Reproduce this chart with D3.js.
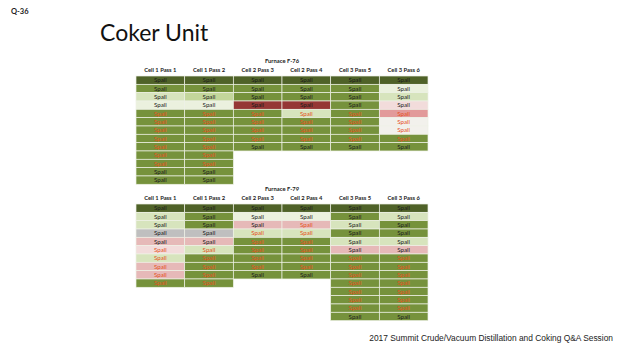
<!DOCTYPE html>
<html>
<head>
<meta charset="utf-8">
<script src="https://cdn.jsdelivr.net/npm/d3@7"></script>
<style>
  html, body { margin: 0; padding: 0; background: #fff; }
  svg { display: block; }
</style>
</head>
<body>
<svg id="chart" width="624" height="351"></svg>
<script>
// table data: one status code per cell, and 1 = red label text
const columns = ["Cell 1 Pass 1", "Cell 1 Pass 2", "Cell 2 Pass 3", "Cell 2 Pass 4", "Cell 3 Pass 5", "Cell 3 Pass 6"];
const cellLabel = "Spall";

const f76Status = [
  ["D", "G", "L", "V", "G", "G", "G", "G", "G", "G", "G", "G", "G"],
  ["D", "G", "M", "V", "G", "G", "G", "G", "G", "G", "G", "G", "G"],
  ["D", "G", "G", "X", "G", "G", "G", "G", "G"],
  ["D", "G", "G", "X", "L", "G", "G", "G", "G"],
  ["D", "G", "G", "G", "G", "G", "G", "G", "G"],
  ["D", "V", "L", "P", "K", "W", "W", "G", "G"]
];
const f76Red = [
  [0, 0, 0, 0, 1, 1, 1, 1, 1, 1, 1, 0, 0],
  [0, 0, 0, 0, 1, 1, 1, 1, 1, 1, 1, 0, 0],
  [0, 0, 0, 0, 1, 1, 1, 1, 0],
  [0, 0, 0, 0, 1, 1, 1, 1, 0],
  [0, 0, 0, 0, 1, 1, 1, 1, 0],
  [0, 0, 0, 0, 1, 1, 1, 1, 0]
];

const f79Status = [
  ["D", "L", "L", "H", "R", "P", "L", "R", "R", "G"],
  ["D", "G", "G", "H", "R", "L", "G", "G", "G", "G"],
  ["D", "V", "R", "L", "G", "G", "G", "G", "G"],
  ["D", "V", "R", "L", "G", "G", "G", "G", "G"],
  ["D", "G", "L", "G", "L", "R", "G", "G", "G", "G", "G", "G", "G", "G"],
  ["D", "L", "G", "G", "L", "R", "G", "G", "G", "G", "G", "G", "G", "G"]
];
const f79Red = [
  [0, 0, 0, 0, 0, 1, 1, 1, 1, 1],
  [0, 0, 0, 0, 0, 1, 1, 1, 1, 1],
  [0, 0, 0, 1, 1, 1, 1, 1, 0],
  [0, 0, 1, 1, 1, 1, 1, 1, 0],
  [0, 0, 0, 0, 0, 0, 1, 1, 1, 1, 1, 1, 1, 0],
  [0, 0, 0, 0, 0, 0, 1, 1, 1, 1, 1, 1, 1, 0]
];

const svg = d3.select("#chart");

const fill = d3.scaleOrdinal()
  .domain(["D", "G", "M", "L", "V", "X", "P", "K", "W", "R", "H"])
  .range(["#4f6228", "#76923c", "#c3d69b", "#d7e4bd", "#ebf1de", "#953735", "#f2dcdb", "#e29a9a", "#f2f1ec", "#e6b9b8", "#bfbfbf"]);

const x = d3.scaleBand().domain(columns).range([136, 428]).padding(0);
const rowH = 8.33;

svg.append("text")
  .attr("x", 11).attr("y", 14)
  .attr("font-family", "Lato, 'Open Sans', sans-serif")
  .attr("font-weight", "bold")
  .attr("font-size", 7.5)
  .attr("fill", "#222")
  .text("Q-36");

svg.append("text")
  .attr("x", 100).attr("y", 41)
  .attr("font-family", "Lato, 'Open Sans', sans-serif")
  .attr("font-size", 23)
  .attr("fill", "#111")
  .text("Coker Unit");

svg.append("text")
  .attr("x", 613).attr("y", 341)
  .attr("text-anchor", "end")
  .attr("font-family", "'Liberation Sans', Arial, sans-serif")
  .attr("font-size", 8.4)
  .attr("fill", "#222")
  .text("2017 Summit Crude/Vacuum Distillation and Coking Q&A Session");

function drawTable(title, titleY, headY, top, status, red) {
  const g = svg.append("g");

  g.append("text")
    .attr("x", (x.range()[0] + x.range()[1]) / 2)
    .attr("y", titleY)
    .attr("text-anchor", "middle")
    .attr("font-family", "Lato, 'Open Sans', sans-serif")
    .attr("font-weight", "bold")
    .attr("font-size", 5.8)
    .attr("fill", "#222")
    .text(title);

  g.selectAll(".colHead")
    .data(columns)
    .enter().append("text")
    .attr("x", d => x(d) + x.bandwidth() / 2)
    .attr("y", headY)
    .attr("text-anchor", "middle")
    .attr("font-family", "Lato, 'Open Sans', sans-serif")
    .attr("font-weight", "bold")
    .attr("font-size", 5.8)
    .attr("fill", "#222")
    .text(d => d);

  const cells = [];
  status.forEach((col, ci) => col.forEach((s, ri) => {
    cells.push({ col: columns[ci], row: ri, status: s, red: red[ci][ri] });
  }));

  const maxRows = d3.max(status, c => c.length);
  const y = d3.scaleLinear().domain([0, maxRows]).range([top, top + maxRows * rowH]);

  g.selectAll("rect")
    .data(cells)
    .enter().append("rect")
    .attr("x", d => x(d.col))
    .attr("y", d => y(d.row))
    .attr("width", x.bandwidth())
    .attr("height", y(1) - y(0))
    .attr("fill", d => fill(d.status))
    .attr("stroke", "#eef1e6")
    .attr("stroke-width", 0.7);

  g.selectAll(".cellText")
    .data(cells)
    .enter().append("text")
    .attr("x", d => x(d.col) + x.bandwidth() / 2)
    .attr("y", d => y(d.row + 0.5) + 2.1)
    .attr("text-anchor", "middle")
    .attr("font-family", "Lato, 'Open Sans', sans-serif")
    .attr("font-size", 6.2)
    .attr("fill", d => d.red ? "#e5501c" : "#1a1a1a")
    .text(cellLabel);
}

drawTable("Furnace F-76", 63, 72, 76, f76Status, f76Red);
drawTable("Furnace F-79", 191, 200, 204, f79Status, f79Red);
</script>
</body>
</html>
